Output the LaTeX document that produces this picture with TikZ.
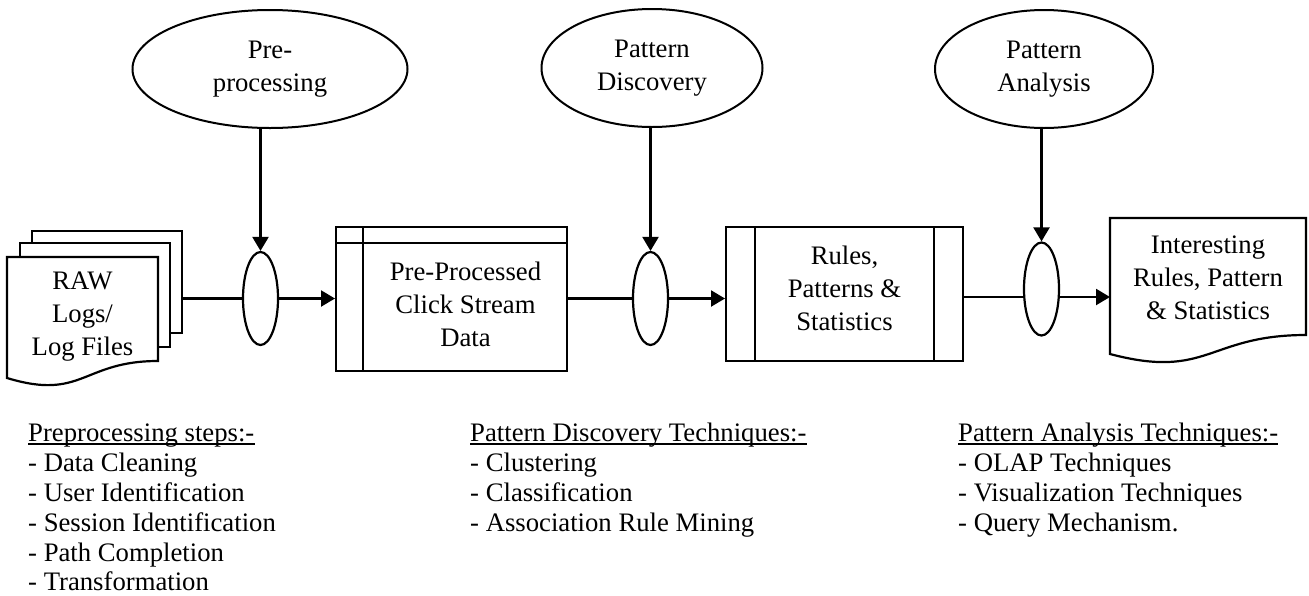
\documentclass[tikz,border=0pt]{standalone}
\usepackage{fontspec}
\setmainfont{Liberation Serif}
\usetikzlibrary{shapes.geometric,arrows.meta}
\begin{document}
\begin{tikzpicture}[x=1pt,y=-1pt,
  every node/.style={font=\fontsize{26.7pt}{33pt}\selectfont},
  ln/.style={line width=2.2pt},
  arr/.style={line width=2.2pt,-{Triangle[length=14pt,width=16pt]}},
  bigell/.style={draw,ellipse,line width=2pt,inner sep=0pt,minimum height=118pt,align=center},
  smallell/.style={draw,ellipse,line width=2.2pt,inner sep=0pt,minimum width=35pt,minimum height=93pt},
  page/.style={draw,fill=white,line width=2pt,inner sep=0pt,minimum width=150pt},
  boxst/.style={draw,line width=2pt,inner sep=0pt},
  txt/.style={inner sep=0pt,align=center},
  item/.style={inner sep=0pt,anchor=base west,font=\fontsize{26.7pt}{30pt}\selectfont},
  uline/.style={line width=1.3pt}]
\useasboundingbox (0,0) rectangle (1309,595);

% top ellipses
\node[bigell,minimum width=275pt] (pre) at (270,69) {Pre-\\processing};
\node[bigell,minimum width=221pt] (disc) at (652,68) {Pattern\\Discovery};
\node[bigell,minimum width=218pt] (anal) at (1044,69) {Pattern\\Analysis};

% small ellipses
\node[smallell] (s1) at (260.5,298.5) {};
\node[smallell] (s2) at (650.5,298.5) {};
\node[smallell] (s3) at (1041.5,289) {};

% stack of documents
\node[page,minimum height=102pt] (pg3) at (107,282) {};
\node[page,minimum height=104pt] (pg2) at (95,295) {};
\draw[ln,fill=white] (7,257) -- (158,257) -- (158,361) .. controls (82.5,361) and (82.5,401) .. (7,378) -- cycle;
\node[txt] (raw) at (82.5,317) {RAW\\Logs/\\Log Files};

% box 1
\node[boxst,minimum width=231pt,minimum height=144pt] (box1) at (451.5,299) {};
\draw[line width=2pt] ([xshift=28pt]box1.north west) -- ([xshift=28pt]box1.south west);
\draw[line width=2pt] ([yshift=-17pt]box1.north west) -- ([yshift=-17pt]box1.north east);
\node[txt] (box1t) at (465.5,304) {Pre-Processed\\Click Stream\\Data};

% box 2
\node[boxst,minimum width=237pt,minimum height=134pt] (box2) at (844.5,294) {};
\draw[line width=2pt] ([xshift=30pt]box2.north west) -- ([xshift=30pt]box2.south west);
\draw[line width=2pt] ([xshift=-30pt]box2.north east) -- ([xshift=-30pt]box2.south east);
\node[txt] (box2t) at (844.5,288) {Rules,\\Patterns \&\\Statistics};

% result document
\draw[ln,fill=white] (1110,218) -- (1306,218) -- (1306,335) .. controls (1208,335) and (1208,380) .. (1110,354) -- cycle;
\node[txt] (res) at (1208,278) {Interesting\\Rules, Pattern\\\& Statistics};
\coordinate (d3w) at (1110,297);

% connectors
\draw[ln] (pg3.east |- s1.west) -- (s1.west);
\draw[arr] (s1.east) -- (box1.west |- s1.east);
\draw[ln] (box1.east |- s2.west) -- (s2.west);
\draw[arr] (s2.east) -- (box2.west |- s2.east);
\draw[ln] (box2.east |- d3w) -- ([yshift=-8pt]s3.west);
\draw[arr] ([yshift=-8pt]s3.east) -- (d3w);

\draw[arr] (pre.south -| s1.north) -- (s1.north);
\draw[arr] (disc.south -| s2.north) -- (s2.north);
\draw[arr] (anal.south -| s3.north) -- (s3.north);

% bottom lists
\node[item] (h1) at (28,441) {Preprocessing steps:-};
\draw[uline] ([yshift=-3pt]h1.base west) -- ([yshift=-3pt]h1.base east);
\node[item] (a1) at (28,471) {- Data Cleaning};
\node[item] (a2) at (28,501) {- User Identification};
\node[item] (a3) at (28,531) {- Session Identification};
\node[item] (a4) at (28,561) {- Path Completion};
\node[item] (a5) at (28,590) {- Transformation};

\node[item] (h2) at (470,441) {Pattern Discovery Techniques:-};
\draw[uline] ([yshift=-3pt]h2.base west) -- ([yshift=-3pt]h2.base east);
\node[item] (b1) at (470,471) {- Clustering};
\node[item] (b2) at (470,501) {- Classification};
\node[item] (b3) at (470,531) {- Association Rule Mining};

\node[item] (h3) at (958,441) {Pattern Analysis Techniques:-};
\draw[uline] ([yshift=-3pt]h3.base west) -- ([yshift=-3pt]h3.base east);
\node[item] (c1) at (958,471) {- OLAP Techniques};
\node[item] (c2) at (958,501) {- Visualization Techniques};
\node[item] (c3) at (958,531) {- Query Mechanism.};
\end{tikzpicture}
\end{document}
